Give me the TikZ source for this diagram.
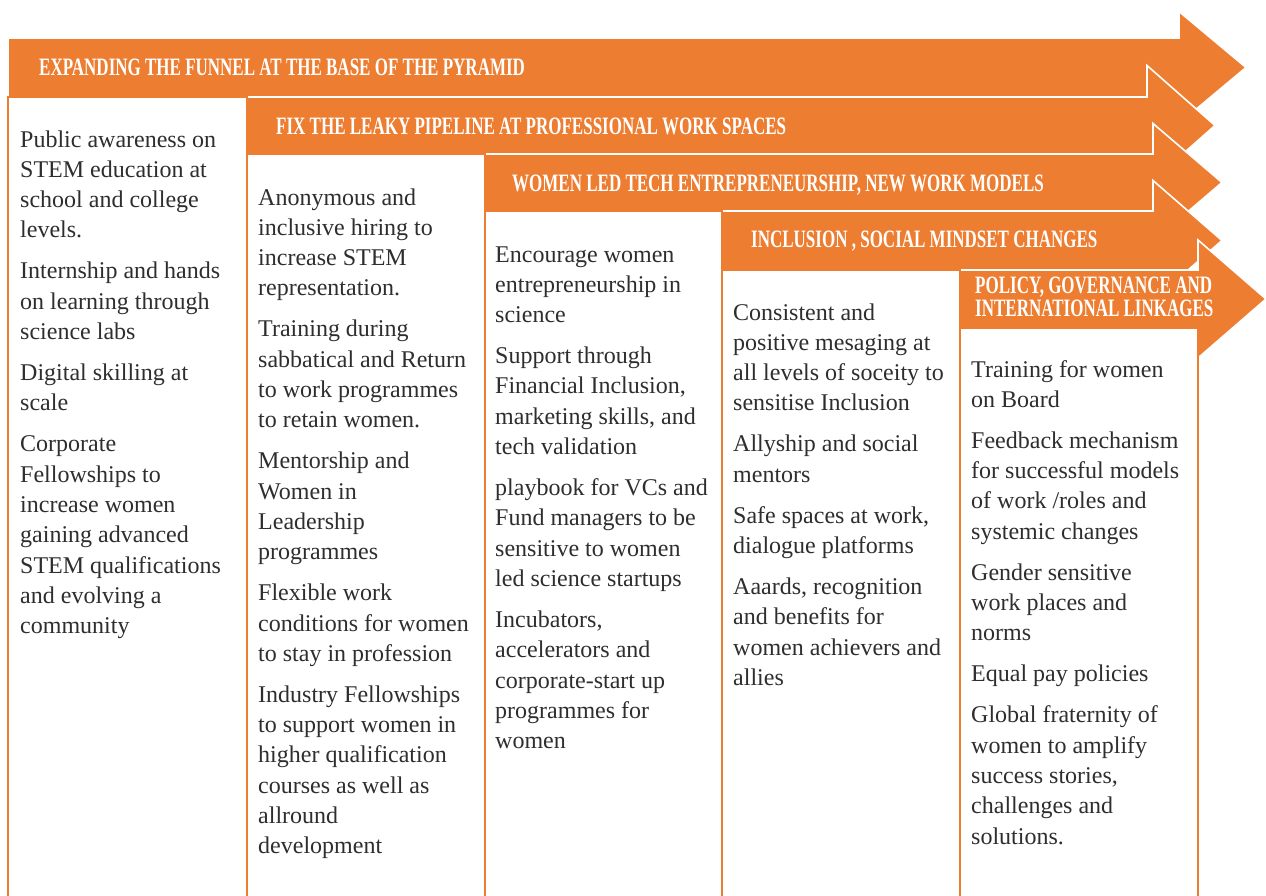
\documentclass[tikz,border=0pt]{standalone}
\usepackage{fontspec}
\setmainfont{Liberation Serif}
\usepackage{graphicx}

\definecolor{accent}{HTML}{ED7D31}
\definecolor{ink}{HTML}{2E2E2E}

% horizontally condensed caps for the band titles
\newcommand{\narrowcaps}[1]{\scalebox{0.68}[1]{#1}}

% stacked lines whose baseline is the first line
\newcommand{\linestack}[1]{\begin{tabular}[t]{@{}l@{}}#1\end{tabular}}

% band arrow: left x, top y, bottom y, head start x, tip x, head half-height
\newcommand{\bandarrow}[6]{%
  \filldraw[bandfill]
    (#1,#2) -- (#4,#2) -- (#4,{(#2+#3)/2-#6}) -- (#5,{(#2+#3)/2})
    -- (#4,{(#2+#3)/2+#6}) -- (#4,#3) -- (#1,#3) -- cycle;}

% column panel: left x, right x, top y (open at the bottom)
\newcommand{\panel}[3]{%
  \fill[white] (#1,#3) rectangle (#2,900);
  \draw[panelline] (#1,900) -- (#1,#3) -- (#2,#3) -- (#2,900);}

\begin{document}
\begin{tikzpicture}[x=1pt,y=-1pt,
  bandfill/.style={fill=accent,draw=white,line width=1.6pt,line join=miter},
  panelline/.style={draw=accent,line width=2.4pt},
  bandtitle/.style={anchor=base west,inner sep=0pt,text=white,
    font=\fontsize{25}{22}\selectfont\bfseries},
  bodytext/.style={anchor=base west,inner sep=0pt,text=ink,
    font=\fontsize{24}{30.3}\selectfont}]
\useasboundingbox (0,0) rectangle (1266,895);

% stacked arrows, each drawn over the previous one
\bandarrow{8}{38}{97}{1179}{1246}{56}
\bandarrow{247}{97}{154}{1147}{1215}{60}
\bandarrow{485}{154}{211}{1153}{1222}{59}
\bandarrow{722}{211}{270}{1153}{1222}{60}
\bandarrow{960}{270}{328}{1198}{1266}{59}

% white panels under each band
\panel{8}{247}{97}
\panel{247}{485}{154}
\panel{485}{722}{211}
\panel{722}{960}{270}
\panel{960}{1198}{328}

% band titles
\node[bandtitle] (t1) at (39,75) {\narrowcaps{EXPANDING THE FUNNEL AT THE BASE OF THE PYRAMID}};
\node[bandtitle] (t2) at (276,134) {\narrowcaps{FIX THE LEAKY PIPELINE AT PROFESSIONAL WORK SPACES}};
\node[bandtitle] (t3) at (512,191) {\narrowcaps{WOMEN LED TECH ENTREPRENEURSHIP, NEW WORK MODELS}};
\node[bandtitle] (t4) at (751,247) {\narrowcaps{INCLUSION , SOCIAL MINDSET CHANGES}};
\node[bandtitle] (t5) at (975,293) {\linestack{\narrowcaps{POLICY, GOVERNANCE AND}\\\narrowcaps{INTERNATIONAL LINKAGES}}};

% column contents
\node[bodytext] (c1) at (20,147) {\linestack{Public awareness on\\STEM education at\\school and college\\levels.\\[10.7pt]
Internship and hands\\on learning through\\science labs\\[10.7pt]
Digital skilling at\\scale\\[10.7pt]
Corporate\\Fellowships to\\increase women\\gaining advanced\\STEM qualifications\\and evolving a\\community}};

\node[bodytext] (c2) at (258,205) {\linestack{Anonymous and\\inclusive hiring to\\increase STEM\\representation.\\[10.7pt]
Training during\\sabbatical and Return\\to work programmes\\to retain women.\\[10.7pt]
Mentorship and\\Women in\\Leadership\\programmes\\[10.7pt]
Flexible work\\conditions for women\\to stay in profession\\[10.7pt]
Industry Fellowships\\to support women in\\higher qualification\\courses as well as\\allround\\development}};

\node[bodytext] (c3) at (495,262) {\linestack{Encourage women\\entrepreneurship in\\science\\[10.7pt]
Support through\\Financial Inclusion,\\marketing skills, and\\tech validation\\[10.7pt]
playbook for VCs and\\Fund managers to be\\sensitive to women\\led science startups\\[10.7pt]
Incubators,\\accelerators and\\corporate-start up\\programmes for\\women}};

\node[bodytext] (c4) at (733,320) {\linestack{Consistent and\\positive mesaging at\\all levels of soceity to\\sensitise Inclusion\\[10.7pt]
Allyship and social\\mentors\\[10.7pt]
Safe spaces at work,\\dialogue platforms\\[10.7pt]
Aaards, recognition\\and benefits for\\women achievers and\\allies}};

\node[bodytext] (c5) at (971,377) {\linestack{Training for women\\on Board\\[10.7pt]
Feedback mechanism\\for successful models\\of work /roles and\\systemic changes\\[10.7pt]
Gender sensitive\\work places and\\norms\\[10.7pt]
Equal pay policies\\[10.7pt]
Global fraternity of\\women to amplify\\success stories,\\challenges and\\solutions.}};
\end{tikzpicture}
\end{document}
